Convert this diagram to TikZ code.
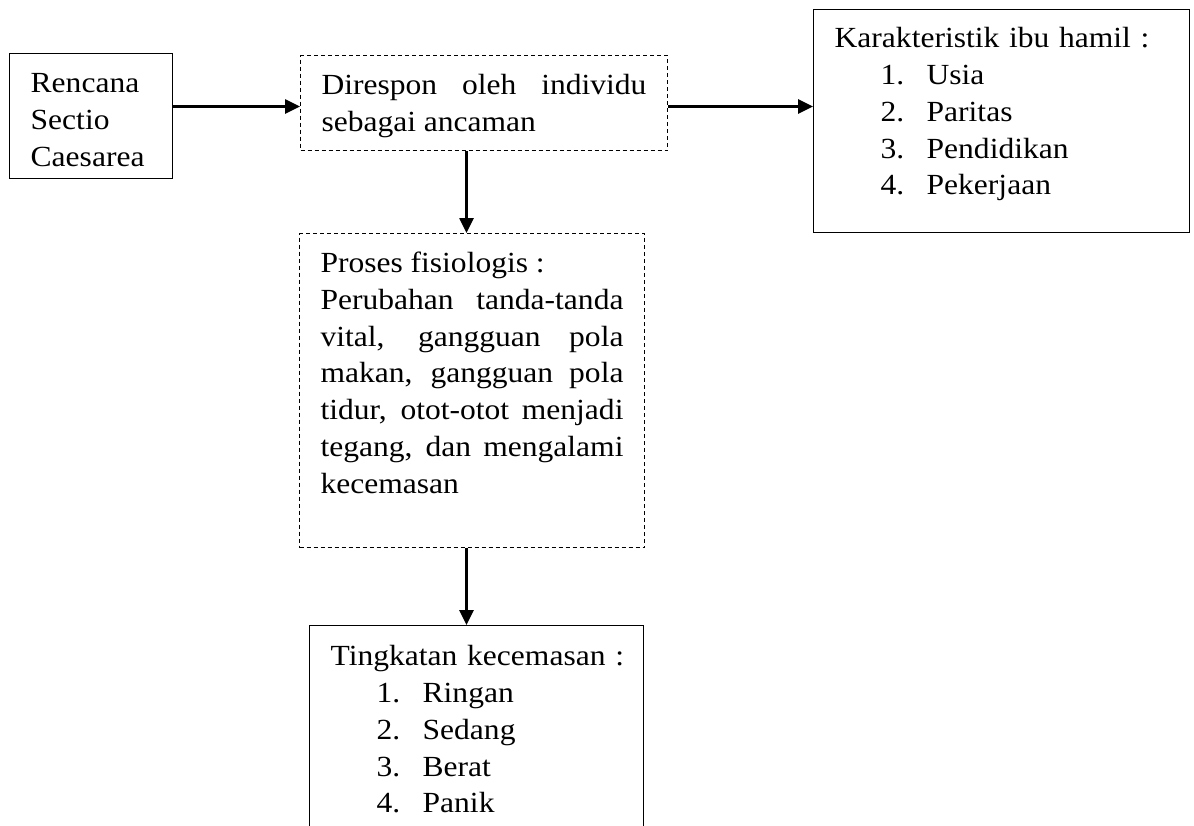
\documentclass[tikz,border=0pt]{standalone}
\usepackage{fontspec}
\setmainfont{Liberation Serif}[FakeStretch=1.08]
\usetikzlibrary{arrows.meta}
\hyphenpenalty=10000
\exhyphenpenalty=10000
\newcommand{\listitem}[2]{\\\hspace*{23pt}\makebox[23pt][l]{#1}#2}

\begin{document}
\begin{tikzpicture}[x=0.5pt,y=-0.5pt,
    every node/.style={font=\fontsize{14.6}{18.4}\selectfont, inner xsep=10.5pt, inner ysep=0pt, anchor=north west},
    solidbox/.style={draw, line width=0.7pt},
    dashbox/.style={draw, line width=0.5pt, dash pattern=on 2pt off 1.5pt},
    arr/.style={line width=1.3pt, -{Triangle[length=7.5pt,width=7pt]}}]
        \useasboundingbox (0,0) rectangle (1194,825);
        \clip (0,0) rectangle (1194,825);
        \node[solidbox, text width=60.5pt, align=left, text height=19.5pt, text depth=43pt] (rencana) at (9,53)
          {Rencana\\Sectio\\Caesarea};
        \node[dashbox, text width=162.5pt, align=justify, text height=19.5pt, text depth=28pt] (respon) at (300,55)
          {Direspon oleh individu\linebreak sebagai ancaman};
        \node[solidbox, text width=167pt, align=left, text height=19pt, text depth=92.5pt] (karakter) at (813,9)
          {Karakteristik ibu hamil :\listitem{1.}{Usia}\listitem{2.}{Paritas}\listitem{3.}{Pendidikan}\listitem{4.}{Pekerjaan}};
        \node[dashbox, text width=151.5pt, align=justify, text height=19.5pt, text depth=137.5pt] (proses) at (299,233)
          {Proses fisiologis :\\ Perubahan tanda-tanda\linebreak vital, gangguan pola\linebreak makan, gangguan pola\linebreak
           tidur, otot-otot menjadi\linebreak tegang, dan mengalami\linebreak kecemasan};
        \node[solidbox, text width=146pt, align=left, text height=20pt, text depth=115pt] (tingkat) at (309,625)
          {\mbox{Tingkatan kecemasan :}\listitem{1.}{Ringan}\listitem{2.}{Sedang}\listitem{3.}{Berat}\listitem{4.}{Panik}};
        \draw[arr] ([yshift=-1.75pt]respon.west -| rencana.east) -- ([yshift=-1.75pt]respon.west);
        \draw[arr] ([yshift=-1.75pt]respon.east) -- ([yshift=-1.75pt]respon.east -| karakter.west);
        \draw[arr] ([xshift=-2.75pt]proses.north |- respon.south) -- ([xshift=-2.75pt]proses.north);
        \draw[arr] ([xshift=-2.75pt]proses.south) -- ([xshift=-2.75pt]proses.south |- tingkat.north);
\end{tikzpicture}
\end{document}
